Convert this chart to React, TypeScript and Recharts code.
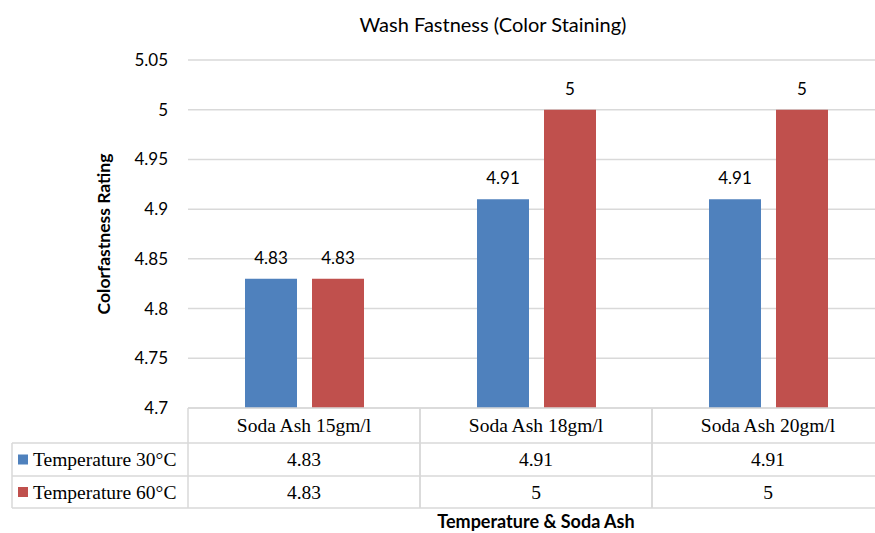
import { Bar, BarChart, CartesianGrid, LabelList, XAxis, YAxis } from 'recharts'

const categories = ['Soda Ash 15gm/l', 'Soda Ash 18gm/l', 'Soda Ash 20gm/l']
const temp30 = [4.83, 4.91, 4.91]
const temp60 = [4.83, 5, 5]
const yTicks = [4.7, 4.75, 4.8, 4.85, 4.9, 4.95, 5, 5.05]

const series = [
	{ key: 'temp30', name: 'Temperature 30°C', color: '#4F81BD', values: temp30 },
	{ key: 'temp60', name: 'Temperature 60°C', color: '#C0504D', values: temp60 },
]

const data = categories.map((name, i) => ({
	name,
	temp30: temp30[i],
	temp60: temp60[i],
}))

const CHART_W = 890
const PLOT_LEFT = 188
const PLOT_RIGHT = 884
const CELL_W = (PLOT_RIGHT - PLOT_LEFT) / categories.length
const LEGEND_LEFT = 12
const ROWS = [0, 35, 68, 100]
const GRID = '#d9d9d9'
const SANS = 'Lato, "Open Sans", sans-serif'
const SERIF = '"Liberation Serif", "Times New Roman", serif'
const TABLE_FONT = 19.5

// draws one column of the data table under each category, plus the legend column
const TableTick = (props: any) => {
	const { x, y, index, payload } = props
	const left = x - CELL_W / 2
	const right = x + CELL_W / 2
	const top = y
	const bottom = y + ROWS[3]
	return (
		<g>
			{ROWS.map((r, k) => (
				<line key={k} x1={index === 0 && k > 0 ? LEGEND_LEFT : left} x2={right} y1={top + r} y2={top + r} stroke={GRID} strokeWidth={1.5} />
			))}
			<line x1={left} x2={left} y1={top} y2={bottom} stroke={GRID} strokeWidth={1.5} />
			<line x1={right} x2={right} y1={top} y2={bottom} stroke={GRID} strokeWidth={1.5} />
			<text x={x} y={top + (ROWS[0] + ROWS[1]) / 2} textAnchor='middle' dominantBaseline='central' fontFamily={SERIF} fontSize={TABLE_FONT} fill='#000'>
				{payload.value}
			</text>
			{series.map((s, k) => (
				<text key={s.key} x={x} y={top + (ROWS[k + 1] + ROWS[k + 2]) / 2} textAnchor='middle' dominantBaseline='central' fontFamily={SERIF} fontSize={TABLE_FONT} fill='#000'>
					{s.values[index]}
				</text>
			))}
			{index === 0 && (
				<g>
					<line x1={LEGEND_LEFT} x2={LEGEND_LEFT} y1={top + ROWS[1]} y2={bottom} stroke={GRID} strokeWidth={1.5} />
					{series.map((s, k) => {
						const cy = top + (ROWS[k + 1] + ROWS[k + 2]) / 2
						return (
							<g key={s.key}>
								<rect x={LEGEND_LEFT + 6} y={cy - 5} width={10} height={10} fill={s.color} />
								<text x={LEGEND_LEFT + 21} y={cy} dominantBaseline='central' fontFamily={SERIF} fontSize={TABLE_FONT} fill='#000'>
									{s.name}
								</text>
							</g>
						)
					})}
				</g>
			)}
		</g>
	)
}

const App = () => {
	return (
		<div style={{ position: 'absolute', left: 0, top: 0, width: 875, height: 533, overflow: 'hidden', background: '#fff' }}>
			<div style={{ position: 'absolute', top: 12, left: 0, width: 986, textAlign: 'center', fontFamily: SANS, fontSize: 20, color: '#000' }}>
				Wash Fastness (Color Staining)
			</div>
			<BarChart
				width={CHART_W}
				height={533}
				data={data}
				margin={{ top: 60, right: CHART_W - PLOT_RIGHT, left: 92, bottom: 0 }}
				barGap={15}
				barSize={52}
			>
				<CartesianGrid vertical={false} stroke={GRID} strokeWidth={1.5} />
				<XAxis
					dataKey='name'
					axisLine={false}
					tickLine={false}
					tickSize={0}
					tickMargin={0}
					height={125}
					interval={0}
					tick={<TableTick />}
					label={{ value: 'Temperature & Soda Ash', position: 'insideBottom', offset: 5, fontFamily: SANS, fontSize: 18, fontWeight: 700, fill: '#000' }}
				/>
				<YAxis
					domain={[4.7, 5.05]}
					ticks={yTicks}
					width={96}
					axisLine={false}
					tickLine={false}
					tickSize={0}
					tickMargin={20}
					tick={{ fontFamily: SANS, fontSize: 17, fill: '#000' }}
					label={{ value: 'Colorfastness Rating', angle: -90, position: 'insideLeft', offset: 12, fontFamily: SANS, fontSize: 17.5, fontWeight: 700, fill: '#000', style: { textAnchor: 'middle' } }}
				/>
				{series.map((s) => (
					<Bar key={s.key} dataKey={s.key} name={s.name} fill={s.color} isAnimationActive={false}>
						<LabelList dataKey={s.key} position='top' offset={15} fontFamily={SANS} fontSize={17} fill='#000' />
					</Bar>
				))}
			</BarChart>
		</div>
	)
}

export default App
